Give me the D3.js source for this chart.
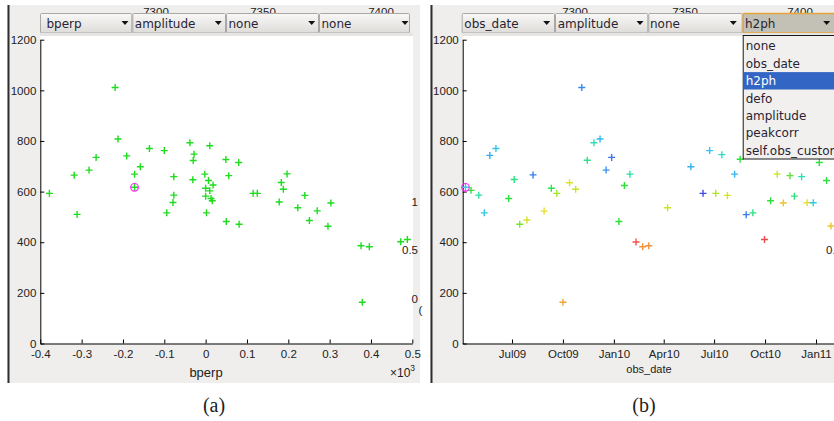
<!DOCTYPE html>
<html><head><meta charset="utf-8">
<script src="https://cdn.jsdelivr.net/npm/d3@7"></script>
<style>body{margin:0;background:#fff}svg{display:block}</style>
</head><body><svg id="c" width="834" height="421"></svg>
<script>
// ---------- DATA ----------
// panel (a): bperp (x10^3) vs amplitude
const bperpX = [-0.378,-0.311,-0.318,-0.282,-0.265,-0.219,-0.212,-0.191,-0.172,-0.158,-0.172,-0.136,-0.100,-0.077,-0.077,-0.079,-0.094,-0.038,-0.028,-0.030,-0.031,0.010,-0.002,0.007,0.018,0.000,0.010,0.000,0.013,0.016,0.002,0.049,0.080,0.056,0.115,0.125,0.197,0.183,0.188,0.178,0.240,0.223,0.270,0.303,0.050,0.081,0.251,0.296,0.376,0.396,0.379,0.472,0.488];
const bperpAmp = [593,510,665,685,735,1011,808,741,669,698,617,770,762,659,586,557,516,793,748,723,647,781,669,644,626,613,603,582,573,564,516,727,715,663,593,593,670,636,609,559,585,536,524,555,482,471,486,463,386,382,163,402,411];
const masterA = [-0.172, 617];
// panel (b): obs_date vs amplitude, coloured by h2ph
const obsDate = ["2009-04-08","2009-04-18","2009-05-02","2009-05-12","2009-05-22","2009-06-02","2009-06-25","2009-07-05","2009-07-15","2009-07-28","2009-08-08","2009-08-28","2009-09-10","2009-09-20","2009-10-01","2009-10-13","2009-10-24","2009-11-04","2009-11-14","2009-11-26","2009-12-07","2009-12-18","2009-12-28","2010-01-10","2010-01-20","2010-01-30","2010-02-10","2010-02-22","2010-03-05","2010-04-08","2010-05-20","2010-06-11","2010-06-23","2010-07-04","2010-07-15","2010-07-25","2010-08-07","2010-08-17","2010-08-28","2010-09-09","2010-09-30","2010-10-11","2010-10-23","2010-11-03","2010-11-15","2010-11-23","2010-12-06","2010-12-16","2010-12-27","2011-01-07","2011-01-20","2011-01-28"];
const obsAmp = [617,605,586,516,743,770,573,648,471,488,666,523,613,593,163,635,609,1011,724,793,808,685,735,482,624,669,401,382,386,536,698,593,762,593,746,585,669,728,509,516,411,564,669,555,663,582,659,556,556,715,644,464];
const h2ph = [0.33,0.5,0.42,0.32,0.25,0.3,0.5,0.44,0.58,0.7,0.15,0.72,0.48,0.62,0.85,0.7,0.68,0.18,0.44,0.4,0.27,0.2,0.13,0.5,0.5,0.42,0.98,0.88,0.88,0.68,0.26,0.03,0.3,0.64,0.38,0.7,0.27,0.5,0.15,0.44,1.0,0.5,0.68,0.78,0.55,0.45,0.4,0.72,0.33,0.5,0.5,0.78];
const masterB = ["2009-04-08", 617];
// ticks
const yTicks = [0,200,400,600,800,1000,1200];
const bperpTicks = [-0.4,-0.3,-0.2,-0.1,0,0.1,0.2,0.3,0.4,0.5];
const bperpTickLabels = ["-0.4","-0.3","-0.2","-0.1","0","0.1","0.2","0.3","0.4","0.5"];
const dateTicks = ["2009-07-01","2009-10-01","2010-01-01","2010-04-01","2010-07-01","2010-10-01","2011-01-01"];
const dateTickLabels = ["Jul09","Oct09","Jan10","Apr10","Jul10","Oct10","Jan11"];
const hiddenTopLabels = ["7300","7350","7400"];
const hiddenSideLabels = ["1","0.5","0"];
const menuA = ["bperp","amplitude","none","none"];
const menuB = ["obs_date","amplitude","none","h2ph"];
const menuOptions = ["none","obs_date","h2ph","defo","amplitude","peakcorr","self.obs_custom"];
const selectedOption = "h2ph";
const captions = ["(a)","(b)"];

// ---------- DRAW ----------
const svg = d3.select("#c");
const parse = d3.utcParse("%Y-%m-%d");
const SANS = "'Liberation Sans', Arial, sans-serif";
const DJ = "'DejaVu Sans', sans-serif";
svg.append("rect").attr("width",834).attr("height",421).attr("fill","#fff");

const defs = svg.append("defs");
const gr = defs.append("linearGradient").attr("id","btn").attr("x1",0).attr("y1",0).attr("x2",0).attr("y2",1);
gr.append("stop").attr("offset","0%").attr("stop-color","#f8f8f7");
gr.append("stop").attr("offset","100%").attr("stop-color","#dedcd9");

// panels
[[7,420],[430,834]].forEach(([a,b]) => {
  svg.append("rect").attr("x",a).attr("y",5).attr("width",b-a).attr("height",378).attr("fill","#efeeec");
  svg.append("rect").attr("x",a+0.5).attr("y",5).attr("width",2).attr("height",378).attr("fill","#2e2e2e");
});

const yA = d3.scaleLinear().domain([0,1200]).range([343.5,39.7]);
const xA = d3.scaleLinear().domain([-0.4,0.5]).range([40.3,412.3]);
const yB = d3.scaleLinear().domain([0,1200]).range([343.5,39.7]);
const xB = d3.scaleUtc().domain([parse("2009-04-03"), parse("2011-01-01")]).range([462.7,816]);

// white plot areas
svg.append("rect").attr("x",40.3).attr("y",36).attr("width",372.7).attr("height",307.5).attr("fill","#fff");
svg.append("rect").attr("x",462.7).attr("y",36).attr("width",372).attr("height",307.5).attr("fill","#fff");

// hidden top labels (partly covered by the menus)
const topA = [156,263,381], topB = [575,685,800];
hiddenTopLabels.forEach((t,i)=>{
  svg.append("text").attr("x",topA[i]).attr("y",16).attr("text-anchor","middle").attr("font-family",SANS).attr("font-size",11.5).attr("fill","#222").text(t);
  svg.append("text").attr("x",topB[i]).attr("y",16).attr("text-anchor","middle").attr("font-family",SANS).attr("font-size",11.5).attr("fill","#222").text(t);
});

function styleAxis(g){
  g.attr("font-family",SANS).attr("font-size",11.5);
  g.selectAll("text").attr("fill","#222");
  g.selectAll("line,path").attr("stroke","#000");
}
// panel a axes
svg.append("g").attr("transform","translate(40.3,0)")
  .call(d3.axisLeft(yA).tickValues(yTicks).tickSize(-4).tickSizeOuter(0).tickPadding(4).tickFormat(d3.format("d"))).call(styleAxis);
svg.append("g").attr("transform","translate(0,343.5)")
  .call(d3.axisBottom(xA).tickValues(bperpTicks).tickSize(-4).tickSizeOuter(0).tickPadding(6.5).tickFormat((d,i)=>bperpTickLabels[i])).call(styleAxis);
// panel b axes
svg.append("g").attr("transform","translate(462.7,0)")
  .call(d3.axisLeft(yB).tickValues(yTicks).tickSize(-4).tickSizeOuter(0).tickPadding(4).tickFormat(d3.format("d"))).call(styleAxis);
const xBaxis = d3.axisBottom(xB).tickValues(dateTicks.map(parse)).tickSize(-4).tickSizeOuter(0).tickPadding(6.5).tickFormat((d,i)=>dateTickLabels[i]);
svg.append("g").attr("transform","translate(0,343.5)").call(xBaxis).call(styleAxis);
svg.append("line").attr("x1",816).attr("x2",834).attr("y1",344).attr("y2",344).attr("stroke","#000");

// axis labels
svg.append("text").attr("x",206).attr("y",377).attr("text-anchor","middle").attr("font-family",SANS).attr("font-size",13).attr("fill","#222").text("bperp");
const ex = svg.append("text").attr("x",390).attr("y",377).attr("font-family",SANS).attr("font-size",12).attr("fill","#222");
ex.append("tspan").text("×10");
ex.append("tspan").attr("font-size",8.5).attr("dy",-6).text("3");
svg.append("text").attr("x",649).attr("y",373).attr("text-anchor","middle").attr("font-family",SANS).attr("font-size",11).attr("fill","#222").text("obs_date");

// markers
const plus = "M-3.5,0H3.5M0,-3.5V3.5";
const jet = d3.scaleLinear().domain([0,0.15,0.3,0.4,0.5,0.62,0.72,0.85,1])
  .range(["#4a3fe6","#3a7cf0","#35c4f0","#2ee0b8","#2ee03c","#a4e42a","#e6e02a","#f2a43a","#f24a4a"]).clamp(true);

svg.append("g").selectAll("path").data(bperpX.map((b,i)=>[b,bperpAmp[i]])).join("path")
  .attr("d",plus).attr("transform",d=>`translate(${xA(d[0])},${yA(d[1])})`)
  .attr("stroke","#1fdc1f").attr("stroke-width",1.4).attr("fill","none");
svg.append("circle").attr("cx",xA(masterA[0])).attr("cy",yA(masterA[1])).attr("r",3.8)
  .attr("fill","none").attr("stroke","#ff22ff").attr("stroke-width",1.2);

const gB = svg.append("g");
gB.selectAll("path").data(obsDate.map((d,i)=>[parse(d),obsAmp[i],h2ph[i]])).join("path")
  .attr("d",plus).attr("transform",d=>`translate(${xB(d[0])},${yB(d[1])})`)
  .attr("stroke",d=>jet(d[2])).attr("stroke-width",1.4).attr("fill","none");
svg.append("circle").attr("cx",xB(parse(masterB[0]))).attr("cy",yB(masterB[1])).attr("r",3.8)
  .attr("fill","none").attr("stroke","#ff22ff").attr("stroke-width",1.2);

// stray labels of an underlying axis
const sideY = [202,250,299];
const sideXA = [418,418,418];
hiddenSideLabels.forEach((t,i)=>{
  svg.append("text").attr("x",sideXA[i]).attr("y",sideY[i]).attr("dy","0.35em").attr("text-anchor","end")
    .attr("font-family",SANS).attr("font-size",11.5).attr("fill","#222").text(t);
});
svg.append("text").attr("x",826).attr("y",250).attr("dy","0.35em").attr("font-family",SANS).attr("font-size",11.5).attr("fill","#222").text(hiddenSideLabels[1]);
svg.append("text").attr("x",418.5).attr("y",310).attr("dy","0.35em").attr("font-family",SANS).attr("font-size",11.5).attr("fill","#222").text("(");

// dropdown menus
function menus(labels, boxes, textX, arrowX, highlightIdx){
  labels.forEach((lab,i)=>{
    const [a,b] = boxes[i];
    const hi = i===highlightIdx;
    svg.append("rect").attr("x",a+0.5).attr("y",13.5).attr("width",b-a-1).attr("height",19.5)
      .attr("fill",hi?"#c3c1b5":"url(#btn)").attr("stroke",hi?"#e6a53a":"#a9a8a6").attr("stroke-width",hi?1.5:1).attr("rx",1);
    svg.append("text").attr("x",textX[i]).attr("y",23.5).attr("dy","0.36em").attr("font-family",DJ).attr("font-size",12)
      .attr("fill","#2a1f33").text(lab);
    const ax = arrowX[i];
    svg.append("path").attr("d",`M${ax-3.5},21H${ax+3.5}L${ax},25Z`).attr("fill","#111");
  });
}
menus(menuA, [[40,132.3],[132.3,226],[226,319],[319,410]], [46.5,134.8,228.5,321.5], [125,218.3,311.7,405], -1);
menus(menuB, [[461.7,555],[555,648.3],[648.3,742.7],[742.7,836]], [464.3,557.7,650,745], [546.7,640,733.3,826.7], 3);
svg.append("rect").attr("x",40).attr("y",33).attr("width",373).attr("height",3).attr("fill","#e6e5e3");
svg.append("rect").attr("x",462).attr("y",33).attr("width",372).attr("height",3).attr("fill","#e6e5e3");

// open dropdown list
const lx = 743.2, ly = 35.5, rowH = 17.4;
svg.append("rect").attr("x",lx).attr("y",ly).attr("width",100).attr("height",123.5).attr("fill","#f1f0ef").attr("stroke","#1a1a1a");
menuOptions.forEach((o,i)=>{
  const cy = ly + 10.5 + i*rowH;
  if (o===selectedOption) svg.append("rect").attr("x",lx+0.5).attr("y",cy-8.7).attr("width",99).attr("height",rowH).attr("fill","#3366c4");
  svg.append("text").attr("x",lx+2.5).attr("y",cy).attr("dy","0.36em").attr("font-family",DJ).attr("font-size",12)
    .attr("fill",o===selectedOption?"#fff":"#2a1f33").text(o);
});

// captions
svg.append("text").attr("x",214).attr("y",412).attr("text-anchor","middle").attr("font-family","'Liberation Serif', serif").attr("font-size",20).attr("fill","#222").text(captions[0]);
svg.append("text").attr("x",644).attr("y",412).attr("text-anchor","middle").attr("font-family","'Liberation Serif', serif").attr("font-size",20).attr("fill","#222").text(captions[1]);
</script></body></html>
